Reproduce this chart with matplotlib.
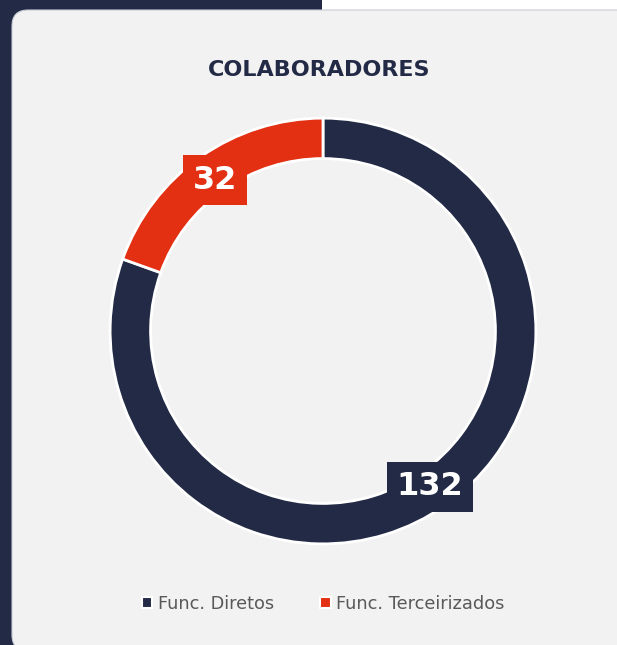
import matplotlib.pyplot as plt
from matplotlib.patches import Rectangle, FancyBboxPatch

# data
labels = ['Func. Diretos', 'Func. Terceirizados']
values = [132, 32]
colors = ['#222A45', '#E32F12']
title = 'COLABORADORES'

W, H = 617, 645
fig = plt.figure(figsize=(W / 100, H / 100), dpi=100)
fig.patch.set_facecolor('#222A45')

# background pieces
fig.patches.append(Rectangle((322 / W, (H - 10) / H), 1, 1, transform=fig.transFigure,
                             facecolor='white', edgecolor='none', zorder=-10))
fig.patches.append(FancyBboxPatch((12 / W, -6 / H), 640 / W, (H - 10 + 6) / H,
                                  boxstyle='round,pad=0,rounding_size=0.026',
                                  transform=fig.transFigure, facecolor='#F2F2F2',
                                  edgecolor='#C8CCD6', linewidth=0.8, zorder=-9,
                                  mutation_aspect=W / H))

fig.text(319 / W, 1 - 70 / H, title, ha='center', va='center', fontsize=16,
         fontweight='bold', color='#222A45', family='DejaVu Sans')

ax = fig.add_axes([108 / W, 99 / H, 430 / W, 430 / H])
ax.set_facecolor('none')
wedges, _ = ax.pie(values, colors=colors, startangle=90, counterclock=False,
                   radius=1.0, wedgeprops=dict(width=0.19, edgecolor='white', linewidth=2))
ax.set_xlim(-1.01, 1.01)
ax.set_ylim(-1.01, 1.01)
ax.set_aspect('equal')
ax.axis('off')

label_pos = [(0.502, -0.732), (-0.507, 0.709)]
for v, c, (x, y) in zip(values, colors, label_pos):
    ax.text(x, y, str(v), ha='center', va='center', fontsize=23, fontweight='bold',
            color='white', family='DejaVu Sans',
            bbox=dict(boxstyle='square,pad=0.3', facecolor=c, edgecolor='none'))

leg = fig.legend(wedges, labels, loc='center', bbox_to_anchor=(323 / W, 1 - 604 / H),
                 ncol=2, frameon=False, handlelength=0.6, handleheight=0.6,
                 handletextpad=0.3, columnspacing=2.6, fontsize=12.8)
for t in leg.get_texts():
    t.set_color('#595959')
for h in leg.legend_handles:
    h.set_edgecolor('white')
    h.set_linewidth(1.5)

fig.savefig('out.png', dpi=100, facecolor=fig.get_facecolor())
